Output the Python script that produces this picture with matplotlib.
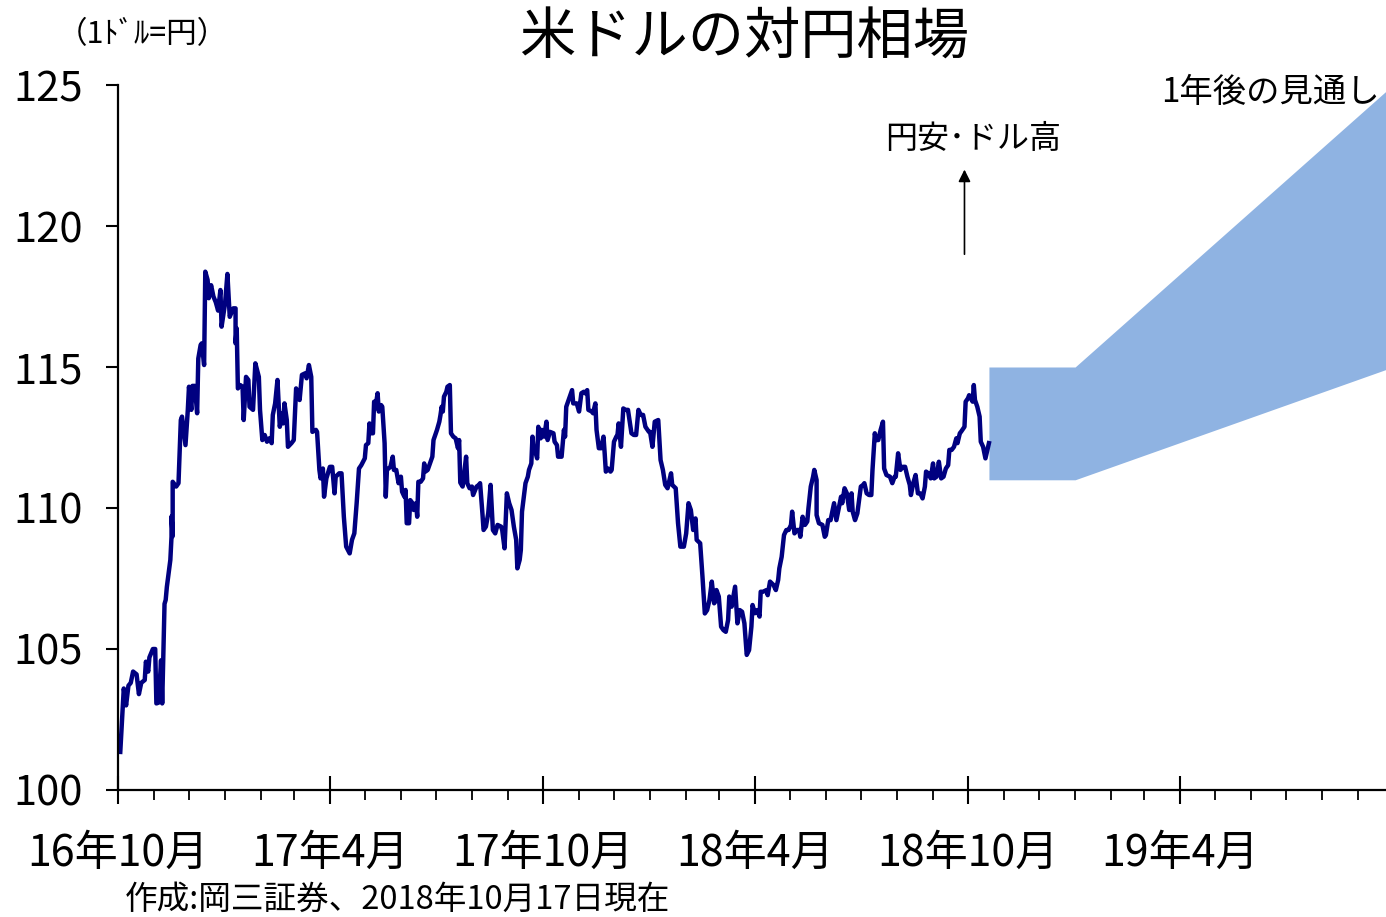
import numpy as np
import pandas as pd
import matplotlib
matplotlib.use("Agg")
import matplotlib.pyplot as plt
import matplotlib.dates as mdates

plt.rcParams['font.family'] = ['Noto Sans CJK JP', 'DejaVu Sans']

# USD/JPY: days since 2016-10-01 and rate (yen per dollar)
base_date = pd.Timestamp('2016-10-01')
days = [
    2, 5, 7, 9, 11, 13, 16, 18, 20, 23, 24, 26, 27, 30, 32, 33, 35, 37, 38, 40,
    41, 42, 45, 46, 46, 47, 47, 50, 52, 54, 55, 58, 60, 61, 63, 64, 66, 68, 69, 71,
    72, 74, 75, 77, 78, 80, 82, 84, 86, 88, 89, 92, 94, 96, 99, 101, 101, 102, 103, 105,
    107, 108, 110, 112, 113, 116, 118, 121, 122, 124, 126, 128, 130, 132, 133, 135, 137, 139, 141, 142,
    143, 145, 146, 149, 151, 153, 154, 156, 158, 161, 162, 164, 166, 167, 170, 171, 173, 174, 176, 177,
    179, 182, 184, 186, 187, 190, 192, 194, 196, 199, 201, 203, 205, 207, 209, 212, 213, 215, 216, 217,
    219, 220, 221, 223, 224, 226, 227, 229, 230, 231, 234, 236, 237, 239, 241, 243, 244, 246, 247, 248,
    250, 251, 253, 254, 256, 257, 258, 260, 262, 263, 264, 266, 268, 270, 271, 272, 274, 276, 277, 278,
    279, 280, 282, 283, 285, 286, 288, 290, 292, 293, 294, 296, 299, 300, 302, 304, 305, 308, 310, 311,
    313, 314, 316, 318, 320, 322, 324, 326, 329, 330, 332, 334, 336, 338, 340, 342, 343, 345, 346, 347,
    350, 352, 353, 355, 356, 357, 358, 360, 361, 363, 364, 366, 368, 369, 371, 374, 375, 377, 378, 381,
    383, 384, 385, 387, 388, 390, 391, 394, 396, 398, 400, 401, 403, 404, 407, 408, 410, 411, 413, 415,
    417, 418, 419, 421, 423, 424, 426, 428, 429, 430, 432, 434, 436, 438, 441, 443, 445, 447, 449, 451,
    453, 456, 457, 459, 461, 464, 466, 468, 470, 472, 475, 476, 479, 481, 483, 486, 488, 490, 492, 494,
    496, 497, 500, 502, 504, 506, 508, 510, 512, 513, 514, 516, 518, 520, 522, 524, 525, 527, 530, 532,
    534, 536, 538, 540, 542, 544, 545, 547, 549, 551, 552, 554, 557, 558, 560, 563, 565, 567, 568, 570,
    572, 574, 576, 578, 579, 581, 583, 585, 586, 588, 590, 592, 593, 595, 597, 598, 600, 600, 602, 605,
    607, 608, 610, 612, 615, 617, 619, 621, 622, 624, 626, 628, 630, 631, 633, 635, 638, 640, 641, 643,
    645, 647, 648, 650, 651, 653, 655, 657, 658, 660, 663, 665, 667, 668, 670, 672, 674, 676, 678, 680,
    681, 683, 685, 687, 689, 691, 693, 694, 696, 698, 700, 701, 703, 705, 707, 709, 711, 713, 714, 716,
    718, 720, 721, 723, 724, 726, 727, 728, 730, 731, 734, 735, 736, 738, 740, 741, 743, 745, 746, 748,
]
usdjpy = [
    101.35, 103.6, 103.0, 103.7, 103.8, 104.2, 104.1, 103.4, 103.8, 103.9, 104.55, 104.2, 104.7, 105.0, 105.0, 103.07, 103.1, 104.6, 103.07, 106.6,
    106.74, 107.2, 108.16, 108.98, 109.7, 109.0, 110.93, 110.76, 110.88, 113.12, 113.24, 112.23, 113.48, 114.3, 113.48, 114.33, 114.33, 113.36, 115.3, 115.78,
    115.84, 115.07, 118.38, 118.09, 117.44, 117.9, 117.5, 117.3, 117.0, 117.73, 116.43, 117.26, 118.3, 116.78, 117.08, 117.08, 115.84, 116.37, 114.24, 114.36,
    114.3, 113.12, 114.65, 114.54, 113.59, 113.48, 115.13, 114.65, 113.48, 112.41, 112.59, 112.35, 112.47, 112.3, 113.3, 113.71, 114.54, 112.88, 113.36, 113.0,
    113.71, 113.12, 112.17, 112.3, 112.41, 114.24, 114.12, 113.83, 114.72, 114.78, 114.6, 115.07, 114.65, 112.7, 112.77, 112.7, 111.35, 111.05, 111.4, 110.4,
    111.05, 111.46, 111.46, 110.52, 111.11, 111.23, 111.23, 109.69, 108.63, 108.39, 108.87, 109.1, 110.17, 111.4, 111.52, 111.76, 112.23, 112.3, 113.0, 112.65,
    112.65, 113.77, 113.53, 114.07, 113.42, 113.65, 113.59, 112.3, 110.4, 111.35, 111.46, 111.82, 111.35, 111.35, 110.88, 111.11, 110.58, 110.4, 110.64, 109.46,
    109.46, 110.28, 110.17, 109.93, 110.17, 109.69, 110.93, 110.93, 111.05, 111.58, 111.29, 111.35, 111.58, 111.82, 112.41, 112.53, 112.77, 113.06, 113.3, 113.59,
    113.42, 113.95, 114.12, 114.3, 114.36, 112.65, 112.53, 112.47, 112.12, 112.41, 110.9, 110.76, 111.82, 110.88, 110.7, 110.76, 110.46, 110.76, 110.82, 110.88,
    109.81, 109.22, 109.34, 109.81, 110.82, 109.22, 109.1, 109.4, 109.34, 109.22, 108.57, 110.52, 110.17, 109.93, 109.34, 108.87, 107.86, 108.16, 108.51, 109.87,
    110.88, 111.11, 111.35, 111.58, 112.53, 112.06, 112.06, 111.76, 112.88, 112.47, 112.77, 112.53, 113.06, 112.41, 112.7, 112.65, 112.35, 112.23, 111.82, 111.82,
    112.77, 112.53, 113.59, 113.83, 113.95, 114.18, 113.71, 113.71, 113.42, 114.07, 114.12, 114.07, 114.18, 113.48, 113.42, 113.36, 113.71, 112.77, 112.12, 112.12,
    112.53, 111.94, 111.29, 111.4, 111.29, 111.35, 112.35, 112.53, 112.59, 113.0, 112.17, 113.53, 113.48, 113.48, 112.65, 112.59, 112.59, 113.48, 113.3, 113.3,
    112.88, 112.7, 112.7, 112.17, 113.06, 113.12, 111.7, 111.35, 110.82, 110.7, 111.23, 110.82, 110.7, 109.46, 108.63, 108.63, 109.1, 110.17, 109.93, 109.22,
    109.63, 108.87, 108.75, 107.56, 106.26, 106.38, 106.74, 107.39, 106.62, 106.68, 107.09, 106.86, 105.79, 105.67, 105.61, 106.03, 106.86, 106.5, 107.21, 105.91,
    106.38, 106.32, 105.91, 104.79, 104.96, 105.79, 106.56, 106.27, 106.38, 106.15, 107.03, 107.03, 107.09, 106.91, 107.39, 107.27, 107.09, 107.45, 107.86, 108.27,
    109.04, 109.22, 109.22, 109.4, 109.87, 109.1, 109.22, 109.22, 108.98, 109.69, 109.4, 109.52, 109.99, 110.76, 111.11, 111.35, 110.99, 109.75, 109.46, 109.4,
    108.98, 109.04, 109.57, 109.57, 110.17, 109.57, 109.99, 110.4, 110.17, 110.7, 110.52, 109.93, 110.52, 109.87, 109.57, 109.81, 110.76, 110.82, 110.88, 110.52,
    110.46, 110.46, 111.35, 112.65, 112.41, 112.41, 112.77, 113.06, 111.4, 111.17, 111.11, 110.88, 111.11, 111.11, 111.94, 111.35, 111.46, 111.46, 111.11, 110.82,
    110.46, 110.88, 111.17, 110.52, 110.52, 110.34, 110.76, 111.29, 111.23, 111.05, 111.58, 111.05, 111.11, 111.64, 111.05, 111.11, 111.4, 111.52, 112.06, 112.06,
    112.17, 112.47, 112.3, 112.65, 112.7, 112.82, 112.88, 113.77, 113.89, 114.0, 113.77, 114.36, 113.83, 113.59, 113.24, 112.35, 112.17, 111.76, 111.94, 112.3,
]

# one-year outlook band
outlook_dates = ['2018-10-19', '2019-01-01', '2019-10-01']
outlook_high = [115, 115, 125]
outlook_low = [111, 111, 115]

major_dates = ['2016-10-01', '2017-04-01', '2017-10-01', '2018-04-01', '2018-10-01', '2019-04-01']
major_labels = ['16年10月', '17年4月', '17年10月', '18年4月', '18年10月', '19年4月']
y_ticks = [100, 105, 110, 115, 120, 125]

dates = base_date + pd.to_timedelta(days, unit='D')

fig = plt.figure(figsize=(13.86, 9.17), dpi=100)
ax = fig.add_axes([0.0851, 0.1385, 0.9149, 0.7688])

ax.fill_between(pd.to_datetime(outlook_dates), outlook_low, outlook_high,
                color='#8FB3E2', linewidth=0, zorder=1)
ax.plot(dates, usdjpy, color='#000080', linewidth=3.2, zorder=2)

ax.set_xlim(pd.Timestamp('2016-10-01'), pd.Timestamp('2019-09-25'))
ax.set_ylim(100, 125)

ax.set_xticks(pd.to_datetime(major_dates))
ax.set_xticklabels(major_labels)
ax.xaxis.set_minor_locator(mdates.MonthLocator())
ax.set_yticks(y_ticks)

for side in ['top', 'right']:
    ax.spines[side].set_visible(False)
for side in ['left', 'bottom']:
    ax.spines[side].set_linewidth(1.6)

ax.tick_params(axis='x', which='major', direction='inout', length=20, width=1.5,
               labelsize=31, pad=20)
ax.tick_params(axis='x', which='minor', direction='out', length=7, width=1.3)
ax.tick_params(axis='y', which='major', direction='out', length=9, width=1.5,
               labelsize=30, pad=16)

# arrow + annotations
ax.annotate('', xy=(pd.Timestamp('2018-09-28'), 122.1),
            xytext=(pd.Timestamp('2018-09-28'), 118.9),
            arrowprops=dict(arrowstyle='-|>', color='black', lw=1.2,
                            mutation_scale=18))
ax.text(pd.Timestamp('2018-10-05'), 123.1, '円安･ドル高', fontsize=23,
        ha='center', va='center')
ax.text(0.995, 0.99, '1年後の見通し', transform=ax.transAxes, fontsize=24,
        ha='right', va='center')

fig.text(0.537, 0.958, '米ドルの対円相場', fontsize=40.5, ha='center', va='center')
fig.text(0.041, 0.962, '（1ﾄﾞﾙ=円）', fontsize=22, ha='left', va='center')
fig.text(0.09, 0.019, '作成:岡三証券、2018年10月17日現在', fontsize=23.5,
         ha='left', va='center')

fig.savefig('out.png', dpi=100)
